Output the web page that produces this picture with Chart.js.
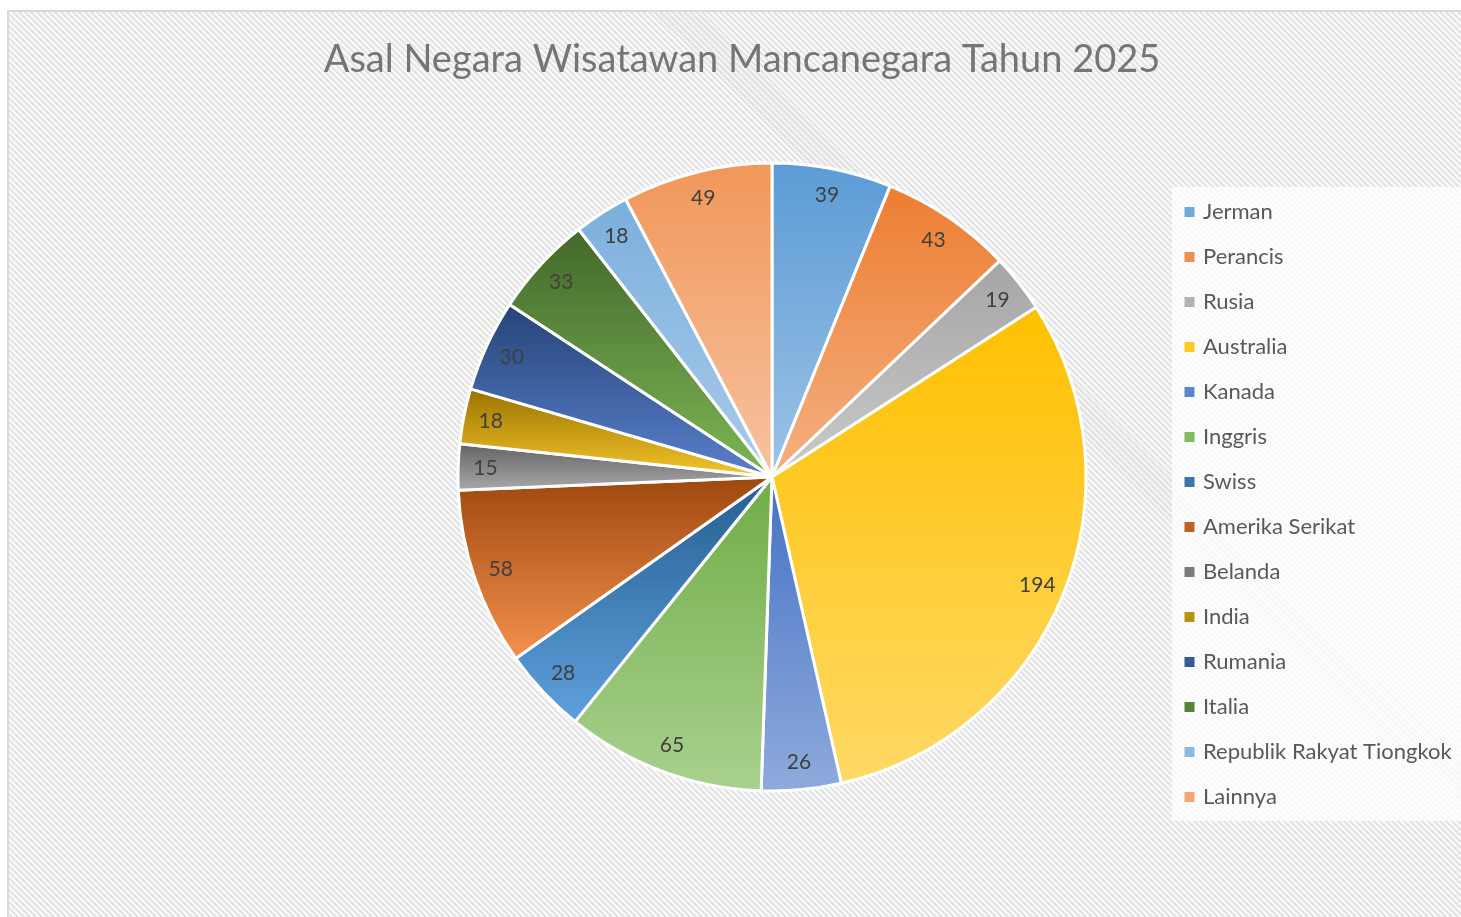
<!DOCTYPE html>
<html>
<head>
<meta charset="utf-8">
<script src="https://cdn.jsdelivr.net/npm/chart.js@4.4.1/dist/chart.umd.min.js"></script>
<style>
  html, body { margin: 0; padding: 0; background: #fff; overflow: hidden; }
  #frame {
    position: absolute; left: 7px; top: 10px; width: 1480px; height: 930px;
    border-left: 2px solid #d9d9d9; border-top: 2px solid #d9d9d9;
    background: repeating-linear-gradient(45deg, #f9f9f9 0px, #f9f9f9 2.1px, #e4e4e4 2.1px, #e4e4e4 4.24px);
  }
  #pie { position: absolute; left: 0; top: 0; }
</style>
</head>
<body>
<div id="frame"></div>
<canvas id="pie" width="1461" height="917"></canvas>
<script>
const countries = ['Jerman', 'Perancis', 'Rusia', 'Australia', 'Kanada', 'Inggris', 'Swiss',
  'Amerika Serikat', 'Belanda', 'India', 'Rumania', 'Italia', 'Republik Rakyat Tiongkok', 'Lainnya'];
const tourists = [39, 43, 19, 194, 26, 65, 28, 58, 15, 18, 30, 33, 18, 49];

// gradient per slice: darker at top of slice, lighter at bottom
const topColors = ['#5B9BD5', '#ED7D31', '#A5A5A5', '#FFC000', '#4472C4', '#70AD47', '#255E91',
  '#9E480E', '#636363', '#997300', '#264478', '#43682B', '#7CAFDD', '#F1975A'];
const bottomColors = ['#9DC3E6', '#F4B183', '#CACACA', '#FFD966', '#8FAADC', '#A9D18E', '#5FA0DC',
  '#F4914E', '#A8A8A8', '#F5C52A', '#5A80CC', '#7DB654', '#A9CBEA', '#F7C2A0'];

const R = 314;
const titleText = 'Asal Negara Wisatawan Mancanegara Tahun 2025';

function mix(a, b, t) {
  const pa = [1, 3, 5].map(k => parseInt(a.substr(k, 2), 16));
  const pb = [1, 3, 5].map(k => parseInt(b.substr(k, 2), 16));
  return 'rgb(' + pa.map((v, k) => Math.round(v + (pb[k] - v) * t)).join(',') + ')';
}

function sliceFill(context) {
  const chart = context.chart;
  const i = context.dataIndex;
  const area = chart.chartArea;
  if (!area || i === undefined) return topColors[i || 0];
  const cx = (area.left + area.right) / 2;
  const cy = (area.top + area.bottom) / 2;
  const total = tourists.reduce((a, b) => a + b, 0);
  let before = 0;
  for (let k = 0; k < i; k++) before += tourists[k];
  const a0 = -Math.PI / 2 + 2 * Math.PI * before / total;
  const a1 = a0 + 2 * Math.PI * tourists[i] / total;
  const ys = [cy, cy + R * Math.sin(a0), cy + R * Math.sin(a1)];
  [-Math.PI / 2, Math.PI / 2, 3 * Math.PI / 2].forEach(t => {
    if (t > a0 && t < a1) ys.push(cy + R * Math.sin(t));
  });
  const g = chart.ctx.createLinearGradient(0, Math.min(...ys), 0, Math.max(...ys));
  g.addColorStop(0, topColors[i]);
  g.addColorStop(1, bottomColors[i]);
  return g;
}

// number inside each slice
const sliceLabels = {
  id: 'sliceLabels',
  afterDatasetsDraw(chart) {
    const ctx = chart.ctx;
    const meta = chart.getDatasetMeta(0);
    ctx.save();
    ctx.font = '21px Lato';
    ctx.fillStyle = '#404040';
    ctx.textAlign = 'center';
    ctx.textBaseline = 'middle';
    meta.data.forEach((arc, i) => {
      const p = arc.getProps(['x', 'y', 'startAngle', 'endAngle', 'outerRadius'], true);
      const mid = (p.startAngle + p.endAngle) / 2;
      const r = p.outerRadius * 0.913;
      ctx.fillText(String(tourists[i]), p.x + Math.cos(mid) * r, p.y + Math.sin(mid) * r);
    });
    ctx.restore();
  }
};

// whitish panel behind the legend
const legendPanel = {
  id: 'legendPanel',
  beforeDraw(chart) {
    const hb = chart.legend && chart.legend.legendHitBoxes;
    if (!hb || !hb.length) return;
    const last = hb[hb.length - 1];
    const ctx = chart.ctx;
    ctx.save();
    ctx.fillStyle = 'rgba(255,255,255,0.72)';
    const top = hb[0].top - 14;
    ctx.fillRect(hb[0].left - 15, top, chart.width, last.top + last.height + 13 - top);
    ctx.restore();
  }
};

// legend sizing so the list sits where the original has it
const legendFont = 22;
const legendPad = 23;
const measure = document.createElement('canvas').getContext('2d');
measure.font = legendFont + 'px Lato';
const longest = Math.max(...countries.map(c => measure.measureText(c).width));
const legendSpan = 297;
const legendW = Math.min(legendPad + 5 + legendFont / 2 + longest + 10, legendSpan);
const padRight = legendSpan - legendW;
const padLeft = 23 + padRight;

const canvas = document.getElementById('pie');
new Chart(canvas, {
  type: 'pie',
  data: {
    labels: countries,
    datasets: [{
      data: tourists,
      backgroundColor: sliceFill,
      borderColor: '#ffffff',
      borderWidth: 3,
      hoverOffset: 0
    }]
  },
  plugins: [legendPanel, sliceLabels],
  options: {
    responsive: false,
    animation: false,
    events: [],
    devicePixelRatio: 1,
    radius: R,
    layout: { padding: { top: 0, bottom: 66.5, left: padLeft, right: padRight } },
    plugins: {
      tooltip: { enabled: false },
      title: {
        display: true,
        text: titleText,
        color: '#757575',
        font: { family: 'Lato', size: 38, weight: 'normal' },
        padding: { top: 36.7, bottom: 21.2 }
      },
      subtitle: {
        display: true,
        position: 'left',
        fullSize: false,
        text: ' ',
        font: { size: 10, lineHeight: 1 },
        padding: { top: 347 - padRight, bottom: 0 }
      },
      legend: {
        position: 'right',
        fullSize: false,
        align: 'center',
        maxWidth: legendSpan,
        title: { display: true, text: ' ', font: { size: 10, lineHeight: 1 }, padding: { top: 45, bottom: 0 } },
        labels: {
          usePointStyle: true,
          pointStyle: 'rect',
          boxWidth: 5,
          boxHeight: 10,
          padding: legendPad,
          color: '#595959',
          font: { family: 'Lato', size: legendFont },
          generateLabels: () => countries.map((c, i) => ({
            text: c,
            fillStyle: mix(topColors[i], bottomColors[i], 0.35),
            strokeStyle: 'rgba(0,0,0,0)',
            lineWidth: 0,
            pointStyle: 'rect',
            rotation: 0,
            fontColor: '#595959',
            hidden: false,
            index: i
          }))
        }
      }
    }
  }
});
</script>
</body>
</html>
